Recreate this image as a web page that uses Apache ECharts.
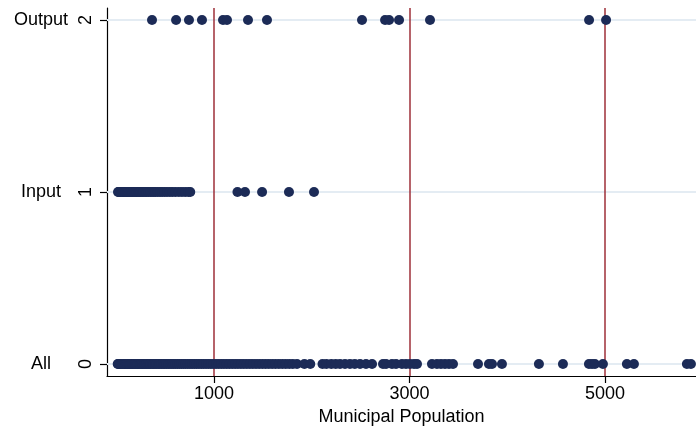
<!DOCTYPE html>
<html>
<head>
<meta charset="utf-8">
<script src="https://cdn.jsdelivr.net/npm/echarts@6/dist/echarts.min.js"></script>
<style>html,body{margin:0;padding:0;background:#fff}#c{width:696px;height:434px}</style>
</head>
<body>
<div id="c"></div>
<script>
// Municipal population values by group (0 = All, 1 = Input, 2 = Output)
var outputPop = [366, 612, 744, 877, 1092, 1133, 1348, 1542, 2514, 2750, 2791, 2893, 3210, 4837, 5011];
var inputPop = [18, 25, 34, 41, 50, 58, 66, 75, 88, 96, 104, 118, 127, 139, 150, 163, 171, 185, 198, 210,
  224, 237, 251, 266, 280, 297, 312, 330, 348, 366, 385, 402, 425, 448, 470, 495, 520, 548, 575, 606,
  640, 672, 705, 738, 757, 1240, 1317, 1492, 1767, 2023];
var allPop = [15, 22, 31, 39, 47, 55, 63, 72, 81, 90, 98, 107, 116, 126, 135, 145, 155, 166, 176, 187,
  198, 210, 221, 233, 245, 257, 270, 283, 296, 310, 324, 338, 352, 367, 382, 397, 413, 429, 445, 462,
  479, 496, 514, 532, 550, 569, 588, 607, 627, 647, 668, 689, 710, 732, 754, 776, 799, 822, 846, 870,
  894, 919, 944, 969, 995, 1021, 1048, 1075, 1102, 1130, 1158, 1187, 1216, 1245, 1275, 1305, 1336, 1367,
  1398, 1430, 1462, 1495, 1528, 1561, 1595, 1629, 1664, 1699, 1734, 1770, 1806, 1849, 1925, 1985,
  2110, 2150, 2200, 2245, 2289, 2340, 2391, 2440, 2494, 2555, 2617, 2729, 2760, 2821, 2862, 2923, 2964,
  3005, 3046, 3077, 3230, 3281, 3322, 3363, 3404, 3445, 3701, 3813, 3844, 3946, 4324, 4570, 4836, 4867,
  4897, 4979, 5224, 5296, 5838, 5879];
var groupLevels = [0, 1, 2];
var groupNames = ['All', 'Input', 'Output'];
var xTicks = [1000, 3000, 5000];
var cutoffs = [1000, 3000, 5000];

function pts(arr, y) { return arr.map(function (v) { return [v, y]; }); }

var font = 'Liberation Sans, Arial, Helvetica, sans-serif';
var dotColor = '#1c2b57';

var chart = echarts.init(document.getElementById('c'));
chart.setOption({
  animation: false,
  backgroundColor: '#ffffff',
  grid: { left: 107, right: 0, top: 8, bottom: 58 },
  xAxis: {
    type: 'value', min: -94.6, max: 5931,
    name: 'Municipal Population', nameLocation: 'middle', nameGap: 31,
    nameTextStyle: { fontFamily: font, fontSize: 18, color: '#000' },
    axisLine: { show: true, onZero: false, lineStyle: { color: '#000', width: 1.2 } },
    axisTick: { show: true, length: 7, customValues: xTicks, lineStyle: { color: '#000', width: 1.2 } },
    axisLabel: { customValues: xTicks, margin: 9, fontFamily: font, fontSize: 18, color: '#000',
      formatter: function (v) { return String(v); } },
    splitLine: { show: false }
  },
  yAxis: [{
    type: 'value', min: -0.0698, max: 2.0698, position: 'left',
    axisLine: { show: true, onZero: false, lineStyle: { color: '#000', width: 1.2 } },
    axisTick: { show: true, length: 7, customValues: groupLevels, lineStyle: { color: '#000', width: 1.2 } },
    axisLabel: { customValues: groupLevels, rotate: 90, margin: 12, fontFamily: font, fontSize: 18, color: '#000',
      formatter: function (v) { return String(v); } },
    splitLine: { show: false }
  }, {
    type: 'value', min: -0.0698, max: 2.0698, position: 'left', offset: 0,
    axisLine: { show: false, onZero: false }, axisTick: { show: false }, splitLine: { show: false },
    axisLabel: {
      customValues: groupLevels, margin: 66, align: 'center',
      fontFamily: font, fontSize: 18, color: '#000',
      formatter: function (v) { return groupNames[Math.round(v)]; }
    }
  }],
  series: [{
    type: 'scatter', data: [], z: 1, silent: true,
    markLine: {
      z: 1, silent: true, symbol: ['none', 'none'], label: { show: false },
      lineStyle: { color: '#e4ecf3', width: 1.8, type: 'solid' },
      data: groupLevels.map(function (g) { return { yAxis: g }; })
    }
  }, {
    type: 'scatter', data: [], z: 1, silent: true,
    markLine: {
      z: 1, silent: true, symbol: ['none', 'none'], label: { show: false },
      lineStyle: { color: '#9e2f38', width: 1.5, type: 'solid' },
      data: cutoffs.map(function (c) { return { xAxis: c }; })
    }
  }, {
    type: 'scatter', z: 3, symbolSize: 10, itemStyle: { color: dotColor, opacity: 1 },
    data: pts(allPop, 0)
  }, {
    type: 'scatter', z: 3, symbolSize: 10, itemStyle: { color: dotColor, opacity: 1 },
    data: pts(inputPop, 1)
  }, {
    type: 'scatter', z: 3, symbolSize: 10, itemStyle: { color: dotColor, opacity: 1 },
    data: pts(outputPop, 2)
  }]
});
</script>
</body>
</html>
